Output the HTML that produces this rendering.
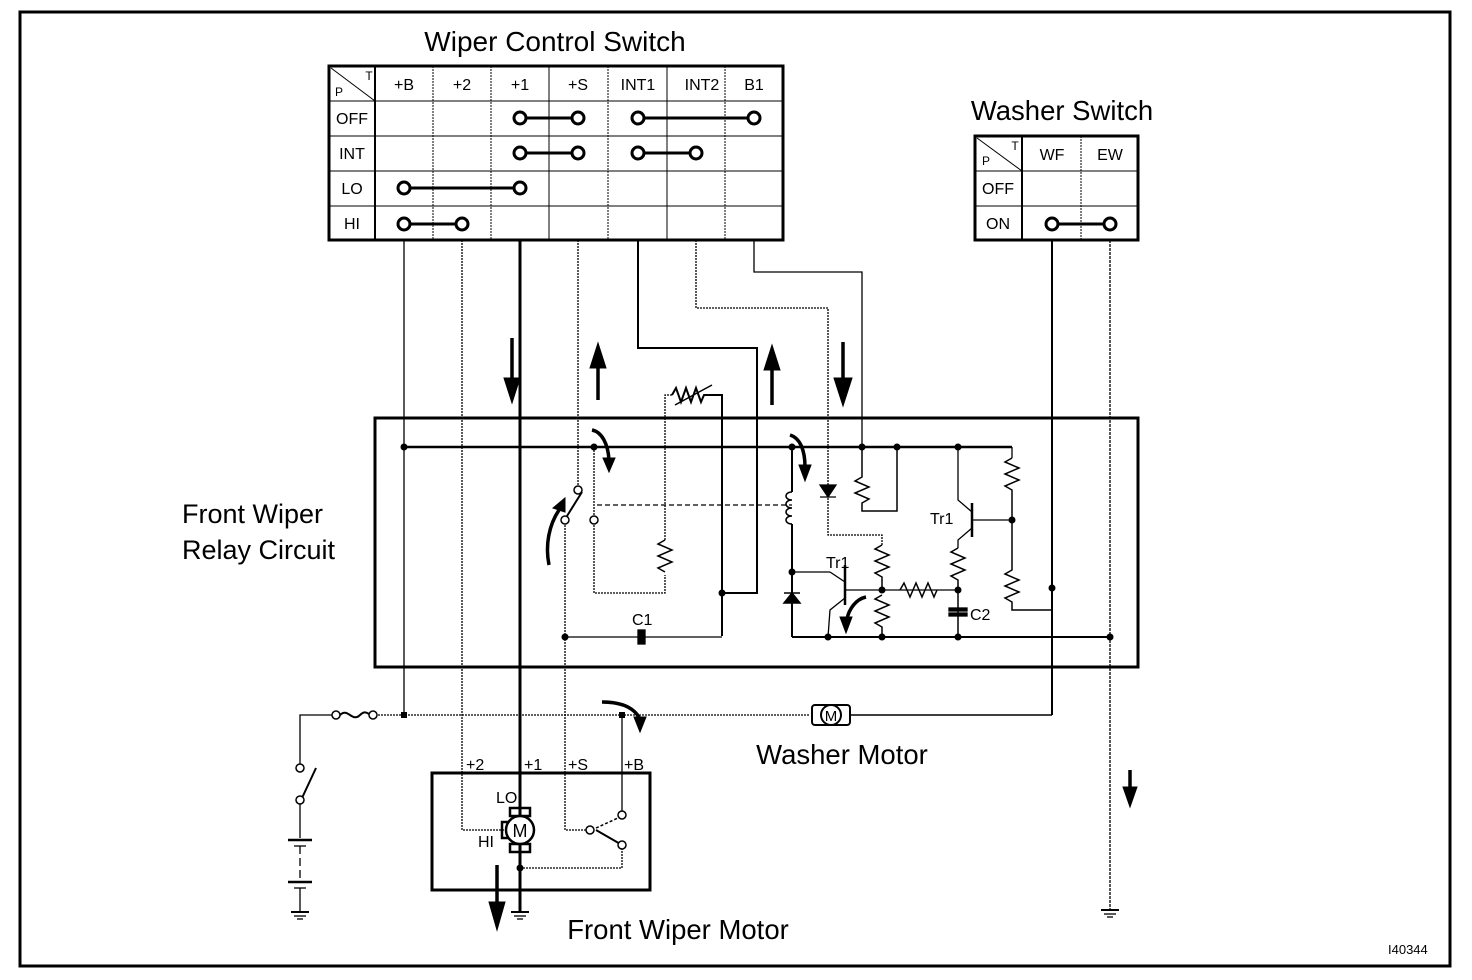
<!DOCTYPE html>
<html><head><meta charset="utf-8"><style>
html,body{margin:0;padding:0;background:#fff;}
svg{display:block;}
text{font-family:"Liberation Sans",sans-serif;fill:#000;}
</style></head><body>
<svg width="1472" height="980" viewBox="0 0 1472 980" xmlns="http://www.w3.org/2000/svg">
<rect x="20" y="12" width="1430" height="954" fill="none" stroke="#000" stroke-width="3"/>

<!-- Wiper control switch table -->
<text x="555" y="51" font-size="28" text-anchor="middle">Wiper Control Switch</text>
<g stroke="#000" fill="none">
<rect x="329" y="66" width="454" height="174" stroke-width="3"/>
<line x1="375" y1="66" x2="375" y2="240" stroke-width="2"/>
<g stroke-width="1">
<line x1="433" y1="66" x2="433" y2="240" stroke-dasharray="2,1"/>
<line x1="491" y1="66" x2="491" y2="240" stroke-dasharray="2,1"/>
<line x1="549" y1="66" x2="549" y2="240"/>
<line x1="608" y1="66" x2="608" y2="240" stroke-dasharray="2,1"/>
<line x1="667" y1="66" x2="667" y2="240"/>
<line x1="725" y1="66" x2="725" y2="240" stroke-dasharray="2,1"/>
<line x1="329" y1="101" x2="783" y2="101"/>
<line x1="329" y1="136" x2="783" y2="136"/>
<line x1="329" y1="171" x2="783" y2="171"/>
<line x1="329" y1="206" x2="783" y2="206"/>
<line x1="331" y1="68" x2="375" y2="101"/>
</g>
</g>
<g font-size="16" text-anchor="middle">
<text x="369" y="80" font-size="12">T</text><text x="339" y="96" font-size="12">P</text>
<text x="404" y="90">+B</text><text x="462" y="90">+2</text><text x="520" y="90">+1</text><text x="578" y="90">+S</text><text x="638" y="90">INT1</text><text x="702" y="90">INT2</text><text x="754" y="90">B1</text>
<text x="352" y="124">OFF</text><text x="352" y="159">INT</text><text x="352" y="194">LO</text><text x="352" y="229">HI</text>
</g>
<g stroke="#000" stroke-width="3" fill="#fff">
<line x1="520" y1="118" x2="578" y2="118"/><line x1="638" y1="118" x2="754" y2="118"/>
<line x1="520" y1="153" x2="578" y2="153"/><line x1="638" y1="153" x2="696" y2="153"/>
<line x1="404" y1="188" x2="520" y2="188"/><line x1="404" y1="224" x2="462" y2="224"/>
<circle cx="520" cy="118" r="6"/><circle cx="578" cy="118" r="6"/><circle cx="638" cy="118" r="6"/><circle cx="754" cy="118" r="6"/>
<circle cx="520" cy="153" r="6"/><circle cx="578" cy="153" r="6"/><circle cx="638" cy="153" r="6"/><circle cx="696" cy="153" r="6"/>
<circle cx="404" cy="188" r="6"/><circle cx="520" cy="188" r="6"/><circle cx="404" cy="224" r="6"/><circle cx="462" cy="224" r="6"/>
</g>

<!-- Washer switch -->
<text x="1062" y="120" font-size="27.5" text-anchor="middle">Washer Switch</text>
<g stroke="#000" fill="none">
<rect x="975" y="136" width="163" height="104" stroke-width="3"/>
<line x1="1022" y1="136" x2="1022" y2="240" stroke-width="2"/>
<line x1="1081" y1="136" x2="1081" y2="240" stroke-dasharray="2,1"/>
<line x1="975" y1="171" x2="1138" y2="171"/><line x1="975" y1="206" x2="1138" y2="206"/>
<line x1="977" y1="138" x2="1022" y2="171"/>
</g>
<g font-size="16" text-anchor="middle">
<text x="1015" y="150" font-size="12">T</text><text x="986" y="165" font-size="12">P</text>
<text x="1052" y="160">WF</text><text x="1110" y="160">EW</text>
<text x="998" y="194">OFF</text><text x="998" y="229">ON</text>
</g>
<g stroke="#000" stroke-width="3" fill="#fff">
<line x1="1052" y1="224" x2="1110" y2="224"/><circle cx="1052" cy="224" r="6"/><circle cx="1110" cy="224" r="6"/>
</g>

<!-- relay box -->
<rect x="375" y="418" width="763" height="249" fill="none" stroke="#000" stroke-width="3"/>
<text x="182" y="523" font-size="27">Front Wiper</text>
<text x="182" y="559" font-size="27">Relay Circuit</text>

<g stroke="#000" fill="none" stroke-width="1.3">
<line x1="404" y1="240" x2="404" y2="715"/>
<polyline points="462,240 462,830 505,830" stroke-dasharray="2,1"/>
<line x1="520" y1="240" x2="520" y2="912" stroke-width="3"/>
<polyline points="578,240 578,485" stroke-dasharray="2,1"/>
<polyline points="638,240 638,348 757,348 757,593 722,593" stroke-width="2"/>
<polyline points="696,240 696,308 828,308 828,535 882,535 882,545" stroke-dasharray="2,1"/>
<polyline points="754,240 754,272 862,272 862,447"/>
<line x1="1052" y1="240" x2="1052" y2="715" stroke-width="2"/>
<line x1="1110" y1="240" x2="1110" y2="910" stroke-dasharray="3,1"/>

<line x1="404" y1="447" x2="1012" y2="447" stroke-width="2.5"/>
<line x1="1012" y1="447" x2="1012" y2="458"/>
<line x1="594" y1="447" x2="594" y2="518" stroke-dasharray="2,1"/>
<line x1="567" y1="516" x2="582" y2="492" stroke-width="2"/>
<line x1="597" y1="505" x2="792" y2="505" stroke-dasharray="5,3"/>
<polyline points="565,522 565,830 590,830" stroke-dasharray="2,1"/>
<polyline points="594,522 594,593 665,593 665,575" stroke-dasharray="2,1"/>
<polyline points="665,540 665,395 672,395" stroke-dasharray="2,1"/>
<path d="M672,395 l4,-7 l5,14 l5,-14 l5,14 l5,-14 l5,14 l3,-7 h18 v241" stroke-width="2"/>
<line x1="675" y1="405" x2="712" y2="385" stroke-width="1.5"/>
<path d="M665,540 l-7,4 l14,6 l-14,6 l14,6 l-14,6 l7,4" stroke-width="1.5"/>
<line x1="565" y1="637" x2="639" y2="637"/><line x1="645" y1="637" x2="722" y2="637"/>
<rect x="638" y="630" width="7" height="14" fill="#000"/>
<line x1="792" y1="447" x2="792" y2="492" stroke-width="2"/>
<path d="M792,492 c-8,0 -8,8 0,8 c-8,0 -8,8 0,8 c-8,0 -8,8 0,8 c-8,0 -8,8 0,8" stroke-width="1.5"/>
<line x1="792" y1="524" x2="792" y2="637" stroke-width="2"/>
<path d="M784,603 h16 l-8,-10 z M784,593 h16" fill="#000" stroke-width="1.5"/>
<line x1="792" y1="637" x2="1110" y2="637" stroke-width="2"/>
<path d="M820,485 h16 l-8,12 z M820,497 h16" fill="#000"/>
<line x1="845" y1="565" x2="845" y2="605" stroke-width="2.5"/>
<line x1="792" y1="572" x2="830" y2="572"/><line x1="830" y1="572" x2="845" y2="582"/>
<polyline points="845,598 830,610 828,637"/>
<line x1="845" y1="590" x2="958" y2="590"/>
<path d="M882,545 l-7,4 l14,6 l-14,6 l14,6 l-14,6 l7,4 v12" stroke-width="1.5"/>
<path d="M882,595 l-7,4 l14,6 l-14,6 l14,6 l-14,6 l7,4 v10" stroke-width="1.5"/>
<path d="M900,590 l4,-7 l6,14 l6,-14 l6,14 l6,-14 l6,14 l3,-7" stroke-width="1.5"/>
<path d="M862,447 v30 l-7,4 l14,6 l-14,6 l14,6 l-7,4 v8 h35 v-63" stroke-width="1.5"/>
<polyline points="958,447 958,500 972,512"/>
<line x1="972" y1="503" x2="972" y2="537" stroke-width="2.5"/>
<line x1="972" y1="520" x2="1012" y2="520"/>
<polyline points="972,528 958,540 958,548"/>
<path d="M958,548 l-7,4 l14,6 l-14,6 l14,6 l-14,6 l7,4 v60" stroke-width="1.5"/>
<path d="M1012,458 l-7,4 l14,6 l-14,6 l14,6 l-14,6 l7,4 v80 l-7,4 l14,6 l-14,6 l14,6 l-14,6 l7,4 v8 h40" stroke-width="1.5"/>
<rect x="949" y="608" width="18" height="3" fill="#000"/><rect x="949" y="613" width="18" height="3" fill="#000"/>

<polyline points="300,768 300,715 333,715"/>
<path d="M340,715 c8,-8 12,8 20,0 c6,-6 8,0 12,0" stroke-width="2"/>
<line x1="375" y1="715" x2="810" y2="715" stroke-dasharray="2,1"/>
<line x1="850" y1="715" x2="1052" y2="715" stroke-width="1.5"/>
<line x1="622" y1="715" x2="622" y2="815"/>
<line x1="302" y1="798" x2="316" y2="768" stroke-width="2"/>
<line x1="300" y1="803" x2="300" y2="838"/>
<line x1="288" y1="840" x2="312" y2="840" stroke-width="2.5"/><line x1="294" y1="846" x2="306" y2="846"/>
<line x1="300" y1="846" x2="300" y2="880" stroke-dasharray="8,4"/>
<line x1="288" y1="882" x2="312" y2="882" stroke-width="2.5"/><line x1="294" y1="888" x2="306" y2="888"/>
<line x1="300" y1="888" x2="300" y2="912"/>
<line x1="291" y1="912" x2="309" y2="912" stroke-width="2"/><line x1="294" y1="916" x2="306" y2="916"/><line x1="297" y1="919" x2="303" y2="919"/>
<line x1="511" y1="912" x2="529" y2="912" stroke-width="2"/><line x1="514" y1="916" x2="526" y2="916"/><line x1="517" y1="919" x2="523" y2="919"/>
<line x1="1101" y1="910" x2="1119" y2="910" stroke-width="2"/><line x1="1104" y1="914" x2="1116" y2="914"/><line x1="1107" y1="917" x2="1113" y2="917"/>
<rect x="432" y="773" width="218" height="117" stroke-width="3"/>
<rect x="510" y="808" width="20" height="8" stroke-width="2.5"/>
<rect x="510" y="844" width="20" height="8" stroke-width="2.5"/>
<rect x="502" y="822" width="8" height="16" stroke-width="2.5"/>
<circle cx="520" cy="830" r="14" fill="#fff" stroke-width="2.5"/>
<polyline points="520,868 622,868 622,848" stroke-dasharray="2,1"/>
<line x1="596" y1="830" x2="622" y2="845" stroke-width="2"/>
<line x1="596" y1="828" x2="618" y2="818" stroke-dasharray="3,2" stroke-width="1.5"/>
<rect x="812" y="705" width="38" height="20" rx="3" fill="#fff" stroke-width="2"/>
<circle cx="831" cy="715" r="10" fill="#fff" stroke-width="2"/>
</g>
<text x="831" y="721" font-size="15" text-anchor="middle">M</text>
<text x="520" y="837" font-size="18" text-anchor="middle">M</text>

<g fill="#fff" stroke="#000" stroke-width="1.5">
<circle cx="578" cy="490" r="4"/><circle cx="565" cy="520" r="4"/><circle cx="594" cy="520" r="4"/>
<circle cx="336" cy="715" r="4"/><circle cx="373" cy="715" r="4"/>
<circle cx="300" cy="768" r="4"/><circle cx="300" cy="800" r="4"/>
<circle cx="590" cy="830" r="4"/><circle cx="622" cy="815" r="4"/><circle cx="622" cy="845" r="4"/>
</g>
<g fill="#000">
<circle cx="404" cy="447" r="3.5"/><circle cx="594" cy="447" r="3.5"/><circle cx="792" cy="447" r="3.5"/><circle cx="862" cy="447" r="3.5"/><circle cx="897" cy="447" r="3.5"/><circle cx="958" cy="447" r="3.5"/>
<circle cx="722" cy="593" r="3.5"/><circle cx="565" cy="637" r="3.5"/><circle cx="792" cy="572" r="3.5"/>
<circle cx="828" cy="637" r="3.5"/><circle cx="882" cy="637" r="3.5"/><circle cx="958" cy="637" r="3.5"/><circle cx="1110" cy="637" r="3.5"/>
<circle cx="882" cy="590" r="3.5"/><circle cx="958" cy="590" r="3.5"/><circle cx="1012" cy="520" r="3.5"/><circle cx="1052" cy="588" r="3.5"/>
<rect x="401" y="712" width="6" height="6"/><rect x="619" y="712" width="6" height="6"/>
<circle cx="520" cy="868" r="3.5"/>
</g>

<g stroke="#000" stroke-width="3.5" fill="none">
<line x1="512" y1="338" x2="512" y2="380"/><path d="M504,378 h16 l-8,25 z" fill="#000" stroke-width="1"/>
<line x1="598" y1="400" x2="598" y2="365"/><path d="M590,368 h16 l-8,-25 z" fill="#000" stroke-width="1"/>
<line x1="772" y1="405" x2="772" y2="368"/><path d="M764,370 h16 l-8,-25 z" fill="#000" stroke-width="1"/>
<line x1="843" y1="342" x2="843" y2="382"/><path d="M834,378 h18 l-9,28 z" fill="#000" stroke-width="1"/>
<line x1="1130" y1="770" x2="1130" y2="790"/><path d="M1123,787 h14 l-7,20 z" fill="#000" stroke-width="1"/>
<line x1="497" y1="865" x2="497" y2="905"/><path d="M489,902 h16 l-8,28 z" fill="#000" stroke-width="1"/>
<path d="M592,430 c10,2 16,14 17,30"/><path d="M603,458 h12 l-6,14 z" fill="#000" stroke-width="1"/>
<path d="M790,435 c10,3 15,15 15,32"/><path d="M799,465 h12 l-6,16 z" fill="#000" stroke-width="1"/>
<path d="M549,565 c-4,-20 0,-40 10,-55"/><path d="M553,508 l12,4 l0,-14 z" fill="#000" stroke-width="1"/>
<path d="M866,597 c-10,2 -17,12 -19,22"/><path d="M840,617 h12 l-6,16 z" fill="#000" stroke-width="1"/>
<path d="M602,702 c18,0 32,5 38,17"/><path d="M634,717 h12 l-6,15 z" fill="#000" stroke-width="1"/>
</g>

<g font-size="16">
<text x="930" y="524">Tr1</text><text x="826" y="568">Tr1</text>
<text x="632" y="625">C1</text><text x="970" y="620">C2</text>
<text x="466" y="770">+2</text><text x="524" y="770">+1</text><text x="568" y="770">+S</text><text x="624" y="770">+B</text>
<text x="496" y="803">LO</text><text x="478" y="847">HI</text>
</g>
<text x="842" y="764" font-size="27.5" text-anchor="middle">Washer Motor</text>
<text x="678" y="939" font-size="27.5" text-anchor="middle">Front Wiper Motor</text>
<text x="1388" y="954" font-size="13">I40344</text>
</svg>
</body></html>
